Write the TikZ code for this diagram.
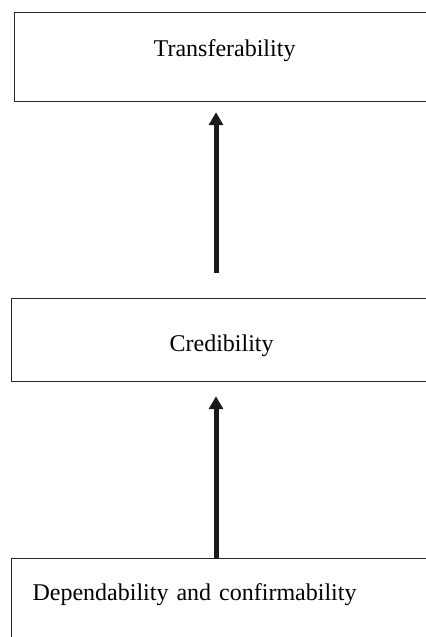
\documentclass[tikz,border=0pt]{standalone}
\usepackage{fontspec}
\setmainfont{Liberation Serif}
\usetikzlibrary{arrows.meta}
\begin{document}
\begin{tikzpicture}[x=0.5pt,y=-0.5pt,
  box/.style={draw=black!85, line width=0.6pt, anchor=north west, inner sep=0pt, minimum width=210pt, font=\fontsize{12}{14}\selectfont},
  up/.style={draw=black!90, line width=2.5pt, -{Triangle[width=7pt,length=6.5pt]}}]
\useasboundingbox (0,0) rectangle (426,637);
\clip (0,0) rectangle (426,637);
\node[box, text height=22pt, text depth=22.5pt] (trans) at (14,12) {Transferability};
\node[box, text height=26.5pt, text depth=15pt] (cred) at (11,298) {Credibility};
\node[box, text height=21pt, text depth=30pt, inner xsep=10.5pt, text width=189pt, align=left] (dep) at (11,558) {Dependability and confirmability};
\coordinate (axis) at (216,0);
\path[up] ([yshift=12.5pt]cred.north -| axis) -- ([yshift=-5pt]trans.south -| axis);
\path[up] (dep.north -| axis) -- ([yshift=-7pt]cred.south -| axis);
\end{tikzpicture}
\end{document}
